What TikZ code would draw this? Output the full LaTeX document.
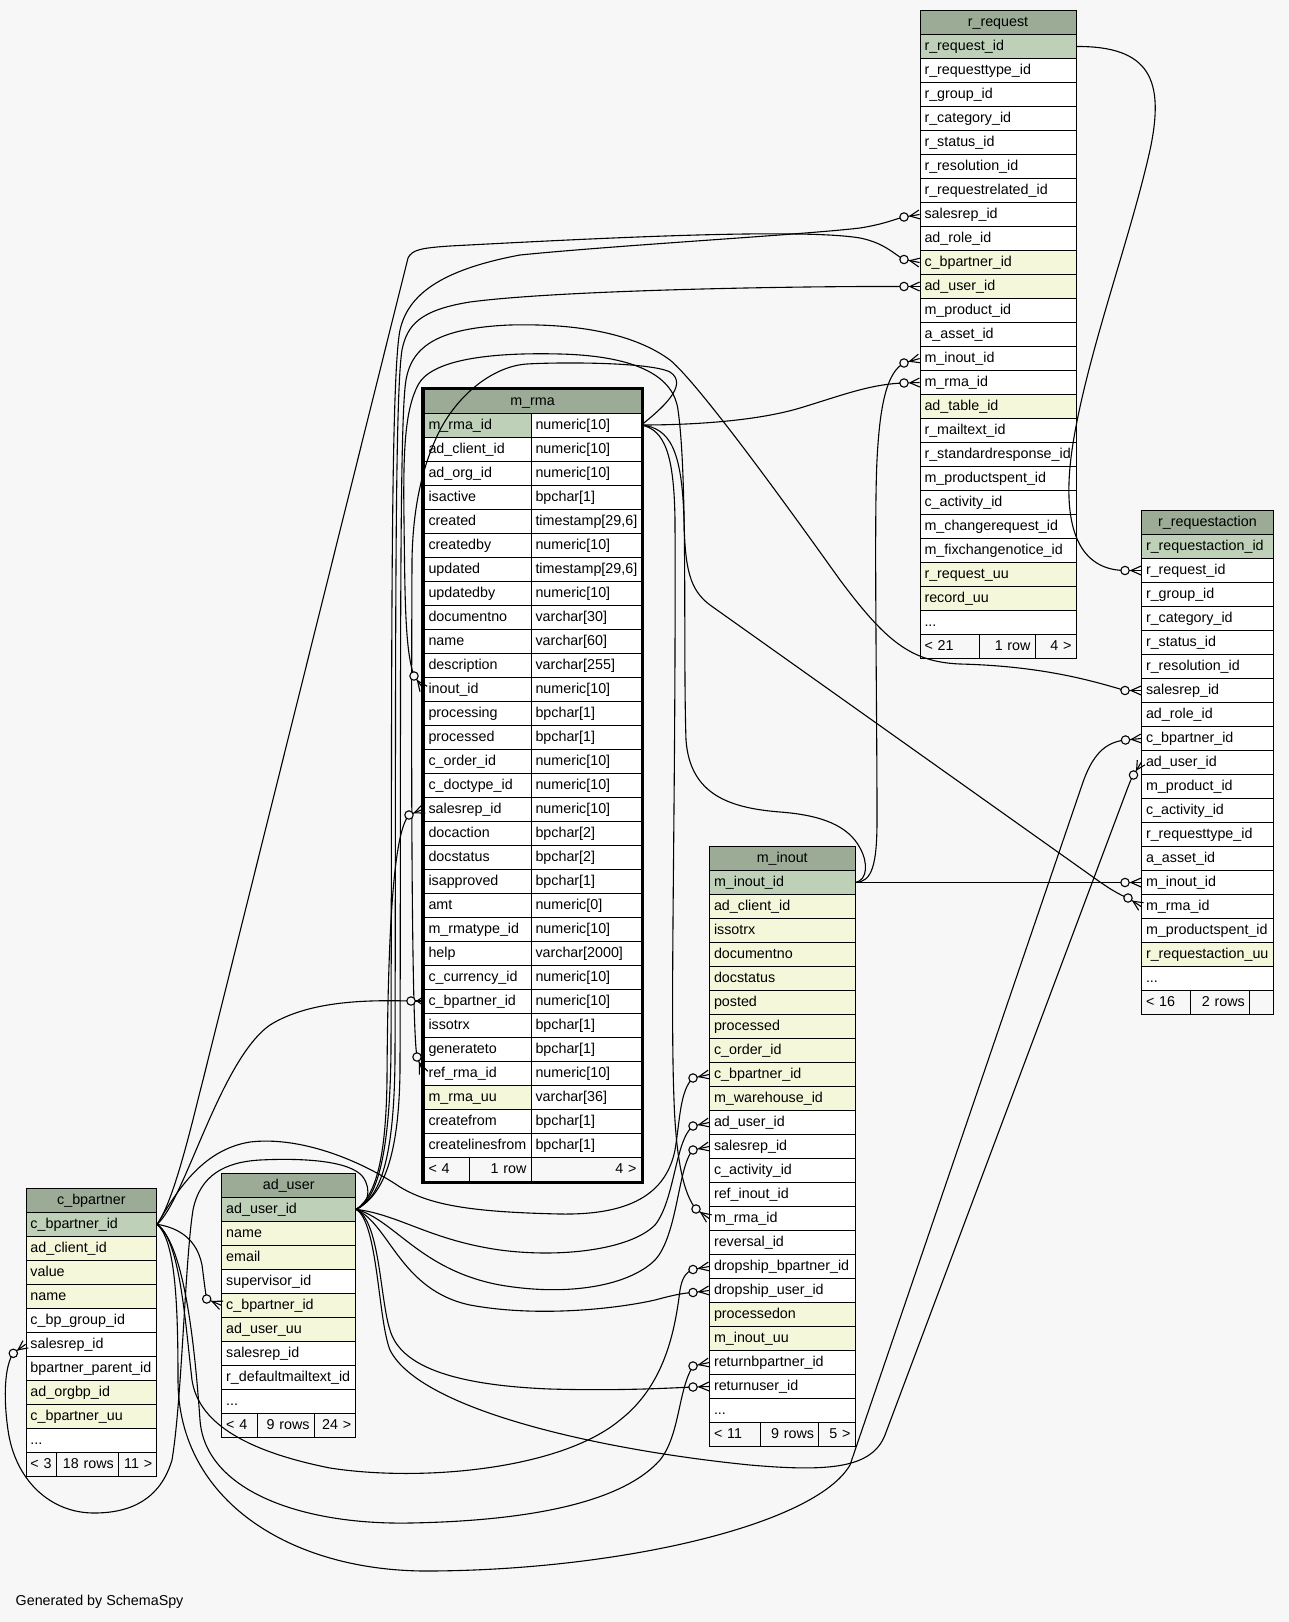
\documentclass[tikz,border=0pt]{standalone}
\usepackage{fontspec}
\setmainfont{Liberation Sans}
\usetikzlibrary{calc}
\definecolor{bgc}{HTML}{F7F7F7}
\definecolor{hdr}{HTML}{9BAB96}
\definecolor{pk}{HTML}{BED1B8}
\definecolor{ix}{HTML}{F4F7DA}
\newcommand{\cellfont}{\fontsize{14.3pt}{17pt}\selectfont\hyphenpenalty=10000\relax}
\tikzset{
  cellst/.style={draw=black, line width=0.8pt, inner xsep=4.5pt, inner ysep=0pt,
    minimum height=24pt, text height=10.5pt, text depth=2.5pt, font=\cellfont, anchor=center},
  conn/.style={draw=black, line width=1.1pt},
}
\newcommand{\tcell}[7][left]{%
  \pgfmathsetmacro\cw{#4-#3}%
  \pgfmathsetmacro\tw{#4-#3-9}%
  \node[cellst, fill=#6, minimum width=\cw pt, text width=\tw pt, align=#1] (#2) at ({(#3+#4)/2},{#5+12}) {#7};%
}
\newcommand{\fkend}[2]{%
  \fill[bgc] (#1) circle (4.2pt);
  \draw[conn] (#1) circle (4.2pt);
  \coordinate (tmpA) at ($(#1)!6pt!(#2)$);
  \draw[conn] ($(#1)!4.2pt!(#2)$) -- (#2);
  \draw[conn] (tmpA) -- ($(#2)!4.5pt!90:(#1)$);
  \draw[conn] (tmpA) -- ($(#2)!4.5pt!-90:(#1)$);
}
\begin{document}
\begin{tikzpicture}[x=1pt,y=-1pt]
\useasboundingbox (0,0) rectangle (1289,1622);
\fill[bgc] (0,0) rectangle (1289,1622);

% ---------------- r_request
\tcell[center]{rqh}{920}{1076}{10.5}{hdr}{r\_request}
\foreach \tx/\fc [count=\i from 0] in {{r\_request\_id}/pk,{r\_requesttype\_id}/white,{r\_group\_id}/white,{r\_category\_id}/white,{r\_status\_id}/white,{r\_resolution\_id}/white,{r\_requestrelated\_id}/white,{salesrep\_id}/white,{ad\_role\_id}/white,{c\_bpartner\_id}/ix,{ad\_user\_id}/ix,{m\_product\_id}/white,{a\_asset\_id}/white,{m\_inout\_id}/white,{m\_rma\_id}/white,{ad\_table\_id}/ix,{r\_mailtext\_id}/white,{r\_standardresponse\_id}/white,{m\_productspent\_id}/white,{c\_activity\_id}/white,{m\_changerequest\_id}/white,{m\_fixchangenotice\_id}/white,{r\_request\_uu}/ix,{record\_uu}/ix,{...}/white}
  {\tcell{rq\i}{920}{1076}{34.5+24*\i}{\fc}{\tx}}
\tcell{rqf1}{920}{979}{634.5}{bgc}{< 21}
\tcell[right]{rqf2}{979}{1035}{634.5}{bgc}{1 row}
\tcell[right]{rqf3}{1035}{1076}{634.5}{bgc}{4 >}

% ---------------- r_requestaction
\tcell[center]{rah}{1141.5}{1273.5}{510.5}{hdr}{r\_requestaction}
\foreach \tx/\fc [count=\i from 0] in {{r\_requestaction\_id}/pk,{r\_request\_id}/white,{r\_group\_id}/white,{r\_category\_id}/white,{r\_status\_id}/white,{r\_resolution\_id}/white,{salesrep\_id}/white,{ad\_role\_id}/white,{c\_bpartner\_id}/white,{ad\_user\_id}/white,{m\_product\_id}/white,{c\_activity\_id}/white,{r\_requesttype\_id}/white,{a\_asset\_id}/white,{m\_inout\_id}/white,{m\_rma\_id}/white,{m\_productspent\_id}/white,{r\_requestaction\_uu}/ix,{...}/white}
  {\tcell{ra\i}{1141.5}{1273.5}{534.5+24*\i}{\fc}{\tx}}
\tcell{raf1}{1141.5}{1190.7}{990.5}{bgc}{< 16}
\tcell[right]{raf2}{1190.7}{1249.3}{990.5}{bgc}{2 rows}
\tcell[right]{raf3}{1249.3}{1273.5}{990.5}{bgc}{}

% ---------------- m_rma
\tcell[center]{mrh}{424}{641}{389}{hdr}{m\_rma}
\foreach \na/\ty/\fc [count=\i from 0] in {{m\_rma\_id}/{numeric[10]}/pk,{ad\_client\_id}/{numeric[10]}/white,{ad\_org\_id}/{numeric[10]}/white,{isactive}/{bpchar[1]}/white,{created}/{timestamp[29,6]}/white,{createdby}/{numeric[10]}/white,{updated}/{timestamp[29,6]}/white,{updatedby}/{numeric[10]}/white,{documentno}/{varchar[30]}/white,{name}/{varchar[60]}/white,{description}/{varchar[255]}/white,{inout\_id}/{numeric[10]}/white,{processing}/{bpchar[1]}/white,{processed}/{bpchar[1]}/white,{c\_order\_id}/{numeric[10]}/white,{c\_doctype\_id}/{numeric[10]}/white,{salesrep\_id}/{numeric[10]}/white,{docaction}/{bpchar[2]}/white,{docstatus}/{bpchar[2]}/white,{isapproved}/{bpchar[1]}/white,{amt}/{numeric[0]}/white,{m\_rmatype\_id}/{numeric[10]}/white,{help}/{varchar[2000]}/white,{c\_currency\_id}/{numeric[10]}/white,{c\_bpartner\_id}/{numeric[10]}/white,{issotrx}/{bpchar[1]}/white,{generateto}/{bpchar[1]}/white,{ref\_rma\_id}/{numeric[10]}/white,{m\_rma\_uu}/{varchar[36]}/ix,{createfrom}/{bpchar[1]}/white,{createlinesfrom}/{bpchar[1]}/white}
  {\tcell{mrN\i}{424}{531}{413+24*\i}{\fc}{\na}
   \tcell{mrT\i}{531}{641}{413+24*\i}{white}{\ty}}
\tcell{mrf1}{424}{469.5}{1157}{bgc}{< 4}
\tcell[right]{mrf2}{469.5}{531}{1157}{bgc}{1 row}
\tcell[right]{mrf3}{531}{641}{1157}{bgc}{4 >}
\draw[line width=3pt] (422.5,388.5) rectangle (642.5,1182.5);

% ---------------- m_inout
\tcell[center]{mih}{709.5}{855}{846.5}{hdr}{m\_inout}
\foreach \tx/\fc [count=\i from 0] in {{m\_inout\_id}/pk,{ad\_client\_id}/ix,{issotrx}/ix,{documentno}/ix,{docstatus}/ix,{posted}/ix,{processed}/ix,{c\_order\_id}/ix,{c\_bpartner\_id}/ix,{m\_warehouse\_id}/ix,{ad\_user\_id}/white,{salesrep\_id}/white,{c\_activity\_id}/white,{ref\_inout\_id}/white,{m\_rma\_id}/white,{reversal\_id}/white,{dropship\_bpartner\_id}/white,{dropship\_user\_id}/white,{processedon}/ix,{m\_inout\_uu}/ix,{returnbpartner\_id}/white,{returnuser\_id}/white,{...}/white}
  {\tcell{mi\i}{709.5}{855}{870.5+24*\i}{\fc}{\tx}}
\tcell{mif1}{709.5}{760.5}{1422.5}{bgc}{< 11}
\tcell[right]{mif2}{760.5}{818.5}{1422.5}{bgc}{9 rows}
\tcell[right]{mif3}{818.5}{855}{1422.5}{bgc}{5 >}

% ---------------- c_bpartner
\tcell[center]{cbh}{26}{156.7}{1188.3}{hdr}{c\_bpartner}
\foreach \tx/\fc [count=\i from 0] in {{c\_bpartner\_id}/pk,{ad\_client\_id}/ix,{value}/ix,{name}/ix,{c\_bp\_group\_id}/white,{salesrep\_id}/white,{bpartner\_parent\_id}/white,{ad\_orgbp\_id}/ix,{c\_bpartner\_uu}/ix,{...}/white}
  {\tcell{cb\i}{26}{156.7}{1212.3+24*\i}{\fc}{\tx}}
\tcell{cbf1}{26}{56.7}{1452.3}{bgc}{< 3}
\tcell[right]{cbf2}{56.7}{118.3}{1452.3}{bgc}{18 rows}
\tcell[right]{cbf3}{118.3}{156.7}{1452.3}{bgc}{11 >}

% ---------------- ad_user
\tcell[center]{auh}{221.7}{355.7}{1173.3}{hdr}{ad\_user}
\foreach \tx/\fc [count=\i from 0] in {{ad\_user\_id}/pk,{name}/ix,{email}/ix,{supervisor\_id}/white,{c\_bpartner\_id}/ix,{ad\_user\_uu}/ix,{salesrep\_id}/white,{r\_defaultmailtext\_id}/white,{...}/white}
  {\tcell{au\i}{221.7}{355.7}{1197.3+24*\i}{\fc}{\tx}}
\tcell{auf1}{221.7}{257.7}{1413.3}{bgc}{< 4}
\tcell[right]{auf2}{257.7}{314}{1413.3}{bgc}{9 rows}
\tcell[right]{auf3}{314}{355.7}{1413.3}{bgc}{24 >}

% ---------------- circle positions of the foreign-key ends
\coordinate (c1) at (904,217);
\coordinate (c2) at (904,259.5);
\coordinate (c3) at (904,286.5);
\coordinate (c4) at (904,363);
\coordinate (c5) at (904,383);
\coordinate (c6) at (1125,570.5);
\coordinate (c7) at (1125,690.5);
\coordinate (c8) at (1125.5,740);
\coordinate (c9) at (1133.5,775);
\coordinate (c10) at (1125,882.5);
\coordinate (c11) at (1128,898);
\coordinate (c12) at (414,676);
\coordinate (c13) at (409,815);
\coordinate (c14) at (411,1001);
\coordinate (c15) at (417,1057);
\coordinate (c16) at (693,1078);
\coordinate (c17) at (693,1126);
\coordinate (c18) at (693,1150);
\coordinate (c19) at (696,1209);
\coordinate (c20) at (693,1269.5);
\coordinate (c21) at (693,1292.5);
\coordinate (c22) at (693,1366);
\coordinate (c23) at (693,1387);
\coordinate (c24) at (206.7,1299);
\coordinate (c25) at (13.3,1353.3);

% ---------------- connectors
\draw[conn] (au0.east) .. controls (378,1200) and (390,1150) .. (391,1050) .. controls (392,700) and (390,380) .. (400,330) .. controls (408,295) and (440,270) .. (520,255) .. controls (620,245) and (800,235) .. (860,228) .. controls (885,224) and (895,219) .. (c1);
\draw[conn] (cb0.east) .. controls (175,1200) and (195,1110) .. (203,1080) -- (408,258) .. controls (412,250) and (420,248) .. (450,246) .. controls (600,238) and (800,228) .. (860,238) .. controls (885,243) and (895,255) .. (c2);
\draw[conn] (au0.east) .. controls (380,1198) and (394,1160) .. (395,1060) .. controls (396,700) and (394,400) .. (402,350) .. controls (407,325) and (420,310) .. (470,302) .. controls (560,290) and (800,286) .. (c3);
\draw[conn] (mi0.east) .. controls (872,882) and (877,865) .. (877,820) .. controls (877,700) and (874,520) .. (877,460) .. controls (880,400) and (888,372) .. (c4);
\draw[conn] (mrT0.east) .. controls (700,425) and (760,420) .. (800,408) .. controls (840,396) and (870,384) .. (c5);
\draw[conn] (rq0.east) .. controls (1150,46) and (1165,80) .. (1150,150) .. controls (1130,240) and (1085,360) .. (1072,450) .. controls (1062,520) and (1075,570) .. (c6);
\draw[conn] (au0.east) .. controls (382,1196) and (399,1160) .. (400,1070) .. controls (401,700) and (399,420) .. (406,380) .. controls (412,345) and (440,328) .. (510,325) .. controls (590,323) and (640,338) .. (670,360) .. controls (700,385) and (790,510) .. (840,580) .. controls (885,640) and (910,662) .. (960,664) .. controls (1040,666) and (1090,680) .. (c7);
\draw[conn] (cb0.east) .. controls (175,1240) and (178,1300) .. (178,1380) .. controls (178,1500) and (290,1572) .. (430,1571) .. controls (620,1570) and (815,1525) .. (850,1465) -- (1082,785) .. controls (1092,755) and (1105,742) .. (c8);
\draw[conn] (au0.east) .. controls (378,1222) and (378,1320) .. (390,1350) .. controls (420,1410) and (600,1450) .. (750,1465) .. controls (830,1472) and (872,1468) .. (885,1435) -- (1128,787) .. controls (1130,782) and (1131,779) .. (c9);
\draw[conn] (mi0.east) -- (c10);
\draw[conn] (mrT0.east) .. controls (670,428) and (682,450) .. (684,520) .. controls (685,570) and (690,590) .. (710,605) -- (1100,882) .. controls (1110,889) and (1120,895) .. (c11);
\draw[conn] (mi0.east) .. controls (868,880) and (868,862) .. (860,848) .. controls (848,825) and (820,815) .. (780,812) .. controls (730,808) and (690,795) .. (686,740) .. controls (683,650) and (688,480) .. (678,410) .. controls (674,378) and (640,356) .. (560,354) .. controls (480,352) and (430,362) .. (418,385) .. controls (405,410) and (403,450) .. (404,520) .. controls (405,600) and (405,650) .. (c12);
\draw[conn] (au0.east) .. controls (378,1195) and (386,1150) .. (387,1080) .. controls (388,900) and (396,830) .. (c13);
\draw[conn] (cb0.east) .. controls (185,1200) and (220,1060) .. (270,1025) .. controls (310,1000) and (370,1000) .. (c14);
\draw[conn] (mrT0.east) .. controls (660,410) and (690,385) .. (670,372) .. controls (650,362) and (560,362) .. (527,364) .. controls (495,366) and (460,392) .. (440,430) .. controls (425,460) and (413,500) .. (412,560) .. controls (411,800) and (412,1030) .. (c15);
\draw[conn] (cb0.east) .. controls (175,1195) and (200,1150) .. (250,1142) .. controls (300,1136) and (360,1160) .. (400,1187) .. controls (430,1205) and (470,1212) .. (560,1214) .. controls (620,1215) and (665,1200) .. (675,1150) .. controls (680,1120) and (680,1090) .. (c16);
\draw[conn] (au0.east) .. controls (400,1215) and (430,1240) .. (500,1250) .. controls (560,1258) and (630,1250) .. (655,1225) .. controls (675,1200) and (675,1140) .. (c17);
\draw[conn] (au0.east) .. controls (395,1220) and (420,1270) .. (500,1285) .. controls (570,1297) and (630,1285) .. (655,1260) .. controls (678,1235) and (678,1165) .. (c18);
\draw[conn] (mrT0.east) .. controls (665,430) and (674,455) .. (675,520) .. controls (676,800) and (670,1000) .. (674,1100) .. controls (676,1160) and (684,1195) .. (c19);
\draw[conn] (cb0.east) .. controls (180,1240) and (185,1320) .. (192,1380) .. controls (198,1420) and (240,1450) .. (330,1468) .. controls (420,1482) and (560,1470) .. (620,1420) .. controls (665,1385) and (675,1330) .. (680,1290) .. controls (682,1278) and (686,1272) .. (c20);
\draw[conn] (au0.east) .. controls (390,1225) and (400,1290) .. (470,1305) .. controls (540,1318) and (620,1308) .. (655,1300) .. controls (670,1296) and (682,1293) .. (c21);
\draw[conn] (cb0.east) .. controls (185,1245) and (195,1350) .. (200,1420) .. controls (205,1490) and (300,1525) .. (410,1523) .. controls (520,1521) and (620,1505) .. (660,1460) .. controls (680,1435) and (678,1390) .. (c22);
\draw[conn] (au0.east) .. controls (380,1220) and (380,1300) .. (390,1330) .. controls (400,1365) and (450,1385) .. (550,1389) .. controls (620,1391) and (670,1388) .. (c23);
\draw[conn] (cb0.east) .. controls (180,1228) and (197,1240) .. (202,1265) .. controls (204,1280) and (205,1290) .. (c24);
\draw[conn] (au0.east) .. controls (368,1205) and (372,1190) .. (363,1177) .. controls (350,1160) and (300,1158) .. (260,1160) .. controls (225,1162) and (200,1175) .. (193,1210) .. controls (185,1260) and (182,1400) .. (172,1460) .. controls (160,1500) and (130,1513) .. (94,1513) .. controls (50,1513) and (15,1480) .. (8,1430) .. controls (3,1395) and (5,1365) .. (c25);

% ---------------- crow's foot + circle ends
\foreach \c/\b in {c1/rq7,c2/rq9,c3/rq10,c4/rq13,c5/rq14,c6/ra1,c7/ra6,c8/ra8,c9/ra9,c10/ra14,c11/ra15,c12/mrN11,c13/mrN16,c14/mrN24,c15/mrN27,c16/mi8,c17/mi10,c18/mi11,c19/mi14,c20/mi16,c21/mi17,c22/mi20,c23/mi21,c24/au4,c25/cb5}
  {\fkend{\c}{\b.west}}

\node[font=\cellfont, anchor=west, inner sep=0pt, text height=10.5pt, text depth=2.5pt] (gen) at (15.5,1601.5) {Generated by SchemaSpy};
\end{tikzpicture}
\end{document}
